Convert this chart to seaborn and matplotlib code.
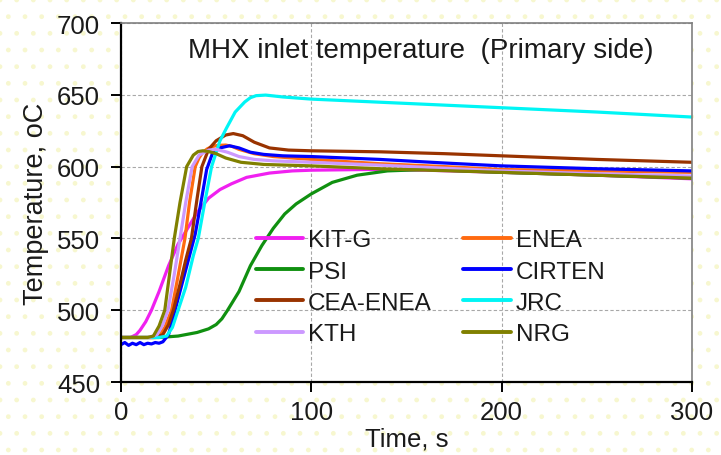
import numpy as np
import pandas as pd
import matplotlib
matplotlib.use("Agg")
import matplotlib.pyplot as plt
import seaborn as sns
from matplotlib.patches import Rectangle
from matplotlib.lines import Line2D

# ---- data ----
kitg_t = [0, 5, 8, 10, 13, 16, 20, 25, 30, 35, 40, 46, 52, 58, 66, 78, 90, 100, 130, 160, 200, 250, 300]
kitg_y = [481, 481, 483, 486, 492, 500, 513, 531, 546, 557, 568, 578, 584, 588, 592.5, 595.5, 597, 597.5, 598, 597.5, 596, 594, 591.5]

enea_t = [0, 17, 20, 23, 26.6, 30, 33.6, 36, 39, 41, 43, 45.5, 48, 51, 55, 58.5, 62, 70, 80, 100, 136, 170, 200, 250, 300]
enea_y = [481, 481, 482, 488, 500, 524, 550, 575, 600, 606, 610, 612.5, 614, 614.8, 615, 614, 612, 609, 607, 605, 602, 600, 598, 597, 596]

psi_t = [0, 20, 30, 40, 46, 50, 53, 56, 62, 68, 74, 80, 86, 92, 100, 111, 124, 140, 160, 200, 250, 300]
psi_y = [481, 481, 482, 484.5, 487, 490, 494, 500, 513, 531, 545, 557, 567, 574, 581, 589, 594, 597, 598, 596, 594, 592]

cirten_t = [0, 2, 4, 6, 8, 10, 12, 14, 16, 18, 20, 22, 25, 28.4, 32, 36, 39, 42, 45, 48, 52, 57, 62, 68, 75, 85, 100, 136, 170, 200, 250, 300]
cirten_y = [476, 477.5, 475.5, 477, 476, 477.5, 476, 477, 476.5, 477.5, 477, 478, 483, 500, 518, 538, 553, 575, 598, 609, 613, 614.5, 613, 610, 608.5, 607.5, 607, 605, 602.5, 600.5, 598.5, 597]

ceaenea_t = [0, 18, 22, 25, 27.5, 31, 34, 37, 40, 42.5, 46, 50, 55, 59, 64, 70, 78, 88, 100, 136, 170, 200, 250, 300]
ceaenea_y = [481, 481, 483, 490, 500, 518, 535, 550, 578, 600, 612, 618, 622, 623, 621.5, 617, 613, 611.5, 611, 610.3, 609, 607.5, 605, 603]

jrc_t = [0, 20, 24, 27, 30, 34, 38, 40.6, 44, 47.6, 52, 55.5, 60, 65, 68, 71, 76, 85, 100, 150, 200, 250, 300]
jrc_y = [481, 481, 482, 488, 500, 516, 538, 550, 575, 600, 618, 627, 638, 645, 648, 649.4, 649.8, 648.5, 647, 644, 641, 638, 634.5]

kth_t = [0, 15, 19, 22, 24.7, 28, 31, 34, 37.4, 41, 46, 50, 56, 62, 70, 80, 100, 136, 200, 250, 300]
kth_y = [481, 481, 483, 490, 500, 525, 550, 575, 600, 608, 611.5, 612, 610, 607, 605, 604, 603, 601, 597, 595, 593.5]

nrg_t = [0, 14, 17, 20, 23, 25.5, 28, 31, 34.5, 38, 40.5, 43, 46, 50, 55, 63, 75, 100, 136, 200, 250, 300]
nrg_y = [481, 481, 482, 489, 500, 525, 550, 575, 600, 608, 610.5, 611, 610.5, 609, 606, 603, 601.5, 600.5, 598.5, 596, 594, 592]

series_names = ["KIT-G", "ENEA", "PSI", "CIRTEN", "CEA-ENEA", "JRC", "KTH", "NRG"]
series_t = [kitg_t, enea_t, psi_t, cirten_t, ceaenea_t, jrc_t, kth_t, nrg_t]
series_y = [kitg_y, enea_y, psi_y, cirten_y, ceaenea_y, jrc_y, kth_y, nrg_y]
colors = ["#f020f0", "#ff6a10", "#109010", "#0000ff", "#993300", "#00f5f5", "#cc99ff", "#808000"]

legend_order = ["KIT-G", "PSI", "CEA-ENEA", "KTH", "ENEA", "CIRTEN", "JRC", "NRG"]

x_ticks = [0, 100, 200, 300]
y_ticks = [450, 500, 550, 600, 650, 700]
title = "MHX inlet temperature  (Primary side)"
x_label = "Time, s"
y_label = "Temperature, oC"

# ---- build table ----
frames = []
for name, t, y in zip(series_names, series_t, series_y):
    frames.append(pd.DataFrame({"time": t, "temp": y, "code": name}))
df = pd.concat(frames, ignore_index=True)

sns.set_theme(style="white")
plt.rcParams["font.family"] = ["Liberation Sans", "DejaVu Sans"]
plt.rcParams["hatch.linewidth"] = 1.0

fig = plt.figure(figsize=(7.21, 4.56), dpi=100, facecolor="white")
bg = Rectangle((0, 0), 1, 1, transform=fig.transFigure, facecolor="white",
               edgecolor="#f7f7cf", hatch=".", linewidth=0, zorder=-10)
fig.patches.append(bg)

ax = fig.add_axes([121 / 721, 73 / 456, 571 / 721, 359 / 456])
ax.set_facecolor("white")

palette = dict(zip(series_names, colors))
sns.lineplot(data=df, x="time", y="temp", hue="code", hue_order=series_names,
             palette=palette, linewidth=2.3, sort=True, estimator=None,
             ax=ax, legend=False)

ax.set_xlim(x_ticks[0], x_ticks[-1])
ax.set_ylim(y_ticks[0], y_ticks[-1])
ax.set_xticks(x_ticks)
ax.set_yticks(y_ticks)
ax.grid(True, color="#a8a8a8", linestyle=(0, (3, 2)), linewidth=0.8)
ax.set_axisbelow(True)

for s in ["left", "bottom"]:
    ax.spines[s].set_color("black")
    ax.spines[s].set_linewidth(1.6)
for s in ["top", "right"]:
    ax.spines[s].set_color("#808080")
    ax.spines[s].set_linewidth(1.2)

ax.tick_params(axis="both", direction="out", length=7, width=1.4, color="black",
               labelsize=18.5, labelcolor="#1a1a1a", left=True, bottom=True)
ax.tick_params(axis="y", pad=8)
ax.tick_params(axis="x", pad=6)

ax.set_xlabel(x_label, fontsize=18.5, color="#1a1a1a", labelpad=2)
ax.set_ylabel(y_label, fontsize=19.5, color="#1a1a1a", labelpad=6)
ax.text(0.5 + 0.025, 0.96, title, transform=ax.transAxes, ha="center", va="top",
        fontsize=20, color="#1a1a1a")

handles = [Line2D([], [], color=palette[n], linewidth=2.8) for n in legend_order]
leg = ax.legend(handles, legend_order, ncol=2, loc="upper left",
                bbox_to_anchor=(0.236, 0.425), frameon=False, fontsize=17.5,
                handlelength=1.95, handletextpad=0.2, columnspacing=1.3,
                labelspacing=0.38, borderpad=0, borderaxespad=0)
for txt in leg.get_texts():
    txt.set_color("#1a1a1a")

fig.savefig("out.png", dpi=100, facecolor=fig.get_facecolor())
